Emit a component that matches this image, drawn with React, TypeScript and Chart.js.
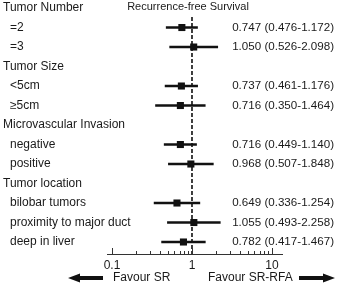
import React, { useEffect, useRef } from "react";
import { Chart, registerables } from "chart.js";

Chart.register(...registerables);

const rowLabels = [
  "Tumor Number",
  "=2",
  "=3",
  "Tumor Size",
  "<5cm",
  "≥5cm",
  "Microvascular Invasion",
  "negative",
  "positive",
  "Tumor location",
  "bilobar tumors",
  "proximity to major duct",
  "deep in liver",
];
const isHeader = [true, false, false, true, false, false, true, false, false, true, false, false, false];
const hrValues: (number | null)[] = [null, 0.747, 1.05, null, 0.737, 0.716, null, 0.716, 0.968, null, 0.649, 1.055, 0.782];
const ciLower: (number | null)[] = [null, 0.476, 0.526, null, 0.461, 0.35, null, 0.449, 0.507, null, 0.336, 0.493, 0.417];
const ciUpper: (number | null)[] = [null, 1.172, 2.098, null, 1.176, 1.464, null, 1.14, 1.848, null, 1.254, 2.258, 1.467];
const xTickValues = [0.1, 0.2, 0.3, 0.4, 0.5, 0.6, 0.7, 0.8, 0.9, 1, 2, 3, 4, 5, 6, 7, 8, 9, 10];
const xTickLabels = ["0.1", "1", "10"];
const xMajorValues = [0.1, 1, 10];
const referenceValue = 1;
const titleText = "Recurrence-free Survival";
const favourLeft = "Favour SR";
const favourRight = "Favour SR-RFA";

const FONT = "'Liberation Sans', Arial, sans-serif";
const INK = "#1a1a1a";
const Y_MIN = 0.46;
const Y_MAX = 12.615;

const fmt = (v: number) => v.toFixed(3);

const overlayPlugin = {
  id: "forestOverlay",
  afterDraw(chart: any) {
    const ctx = chart.ctx as CanvasRenderingContext2D;
    const xs = chart.scales.x;
    const ys = chart.scales.y;
    const area = chart.chartArea;
    ctx.save();
    // tick marks (pointing up into the plot)
    ctx.strokeStyle = "#333";
    ctx.lineWidth = 1;
    xTickValues.forEach((v) => {
      const px = Math.round(xs.getPixelForValue(v)) + 0.5;
      const len = xMajorValues.includes(v) ? 6 : 3;
      ctx.beginPath();
      ctx.moveTo(px, area.bottom);
      ctx.lineTo(px, area.bottom - len);
      ctx.stroke();
    });
    // row labels
    ctx.fillStyle = INK;
    ctx.textBaseline = "middle";
    rowLabels.forEach((label, i) => {
      const py = ys.getPixelForValue(i);
      ctx.font = `12px ${FONT}`;
      ctx.textAlign = "left";
      ctx.fillText(label, isHeader[i] ? 3 : 10, py);
      const hr = hrValues[i];
      const lo = ciLower[i];
      const hi = ciUpper[i];
      if (hr != null && lo != null && hi != null) {
        ctx.font = `11.6px ${FONT}`;
        ctx.textAlign = "right";
        ctx.fillText(`${fmt(hr)} (${fmt(lo)}-${fmt(hi)})`, 334, py);
      }
    });
    // title
    ctx.font = `11px ${FONT}`;
    ctx.textAlign = "center";
    ctx.fillText(titleText, 188, 7);
    // favour labels
    ctx.font = `12px ${FONT}`;
    ctx.textAlign = "left";
    ctx.fillText(favourLeft, 113, 278);
    ctx.fillText(favourRight, 208, 278);
    // arrows
    const arrow = (tail: number, tip: number, y: number) => {
      const dir = tip > tail ? 1 : -1;
      const headLen = 12;
      const neck = tip - dir * headLen;
      ctx.beginPath();
      ctx.moveTo(tail, y - 2);
      ctx.lineTo(neck, y - 2);
      ctx.lineTo(neck, y - 4.5);
      ctx.lineTo(tip, y);
      ctx.lineTo(neck, y + 4.5);
      ctx.lineTo(neck, y + 2);
      ctx.lineTo(tail, y + 2);
      ctx.closePath();
      ctx.fill();
    };
    ctx.fillStyle = "#111";
    arrow(103, 68, 278);
    arrow(299, 335, 278);
    ctx.restore();
  },
};

export default function App() {
  const canvasRef = useRef<HTMLCanvasElement | null>(null);

  useEffect(() => {
    if (!canvasRef.current) return;
    const ciData: any[] = [];
    const hrData: any[] = [];
    rowLabels.forEach((_, i) => {
      const hr = hrValues[i];
      const lo = ciLower[i];
      const hi = ciUpper[i];
      if (hr != null && lo != null && hi != null) {
        ciData.push({ y: i, x: [lo, hi] });
        hrData.push({ x: hr, y: i });
      }
    });
    const chart = new Chart(canvasRef.current, {
      type: "bar",
      data: {
        datasets: [
          {
            type: "scatter",
            label: "HR",
            data: hrData,
            pointStyle: "rect",
            pointRadius: 5,
            pointHoverRadius: 5,
            backgroundColor: "#111",
            borderColor: "#111",
            borderWidth: 0,
          } as any,
          {
            type: "bar",
            label: "95% CI",
            indexAxis: "y",
            data: ciData,
            barThickness: 2,
            backgroundColor: "#111",
            borderWidth: 0,
            borderSkipped: false,
          } as any,
          {
            type: "line",
            label: "reference",
            data: [
              { x: referenceValue, y: Y_MIN },
              { x: referenceValue, y: Y_MAX },
            ],
            borderColor: "#111",
            borderWidth: 1.6,
            borderDash: [4, 2],
            pointRadius: 0,
            fill: false,
          } as any,
        ],
      },
      options: {
        animation: false,
        responsive: false,
        maintainAspectRatio: false,
        events: [],
        layout: { padding: { left: 107, right: 55, top: 17, bottom: 0 } },
        plugins: {
          legend: { display: false },
          tooltip: { enabled: false },
          title: { display: false },
        },
        scales: {
          x: {
            type: "logarithmic",
            position: "bottom",
            min: 0.0866,
            max: 13.34,
            offset: false,
            afterBuildTicks: (scale: any) => {
              scale.ticks = xTickValues.map((v) => ({ value: v, major: xMajorValues.includes(v) }));
            },
            afterFit: (scale: any) => {
              scale.height = 32;
            },
            grid: { display: false, drawTicks: false, offset: false },
            border: { display: true, color: "#333", width: 1 },
            ticks: {
              autoSkip: false,
              maxRotation: 0,
              minRotation: 0,
              padding: 4,
              color: INK,
              font: { family: FONT, size: 12 },
              callback: (value: any) => {
                const idx = xMajorValues.indexOf(Number(value));
                return idx >= 0 ? xTickLabels[idx] : "";
              },
            },
          },
          y: {
            type: "linear",
            reverse: true,
            min: Y_MIN,
            max: Y_MAX,
            offset: false,
            display: false,
            grid: { display: false, offset: false },
          },
        },
      } as any,
      plugins: [overlayPlugin],
    });
    return () => chart.destroy();
  }, []);

  return (
    <div style={{ position: "fixed", left: 0, top: 0, width: 337, height: 286, background: "#fff" }}>
      <canvas ref={canvasRef} width={337} height={286} style={{ display: "block" }} />
    </div>
  );
}
